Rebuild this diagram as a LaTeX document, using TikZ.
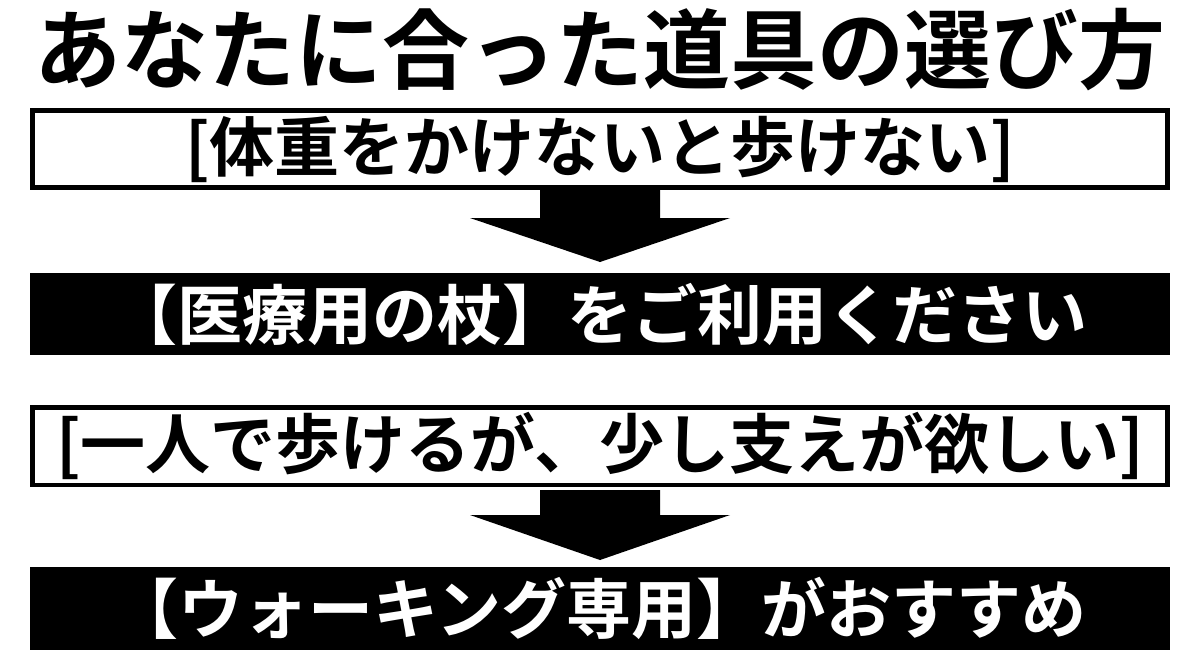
\documentclass[tikz,border=0pt]{standalone}
\usepackage{fontspec}
\newfontfamily\jp{Noto Sans CJK JP}[BoldFont={* Bold}]
\begin{document}
\begin{tikzpicture}[x=0.02cm,y=-0.02cm,
  wbox/.style={draw=black,line width=0.09cm,fill=white,minimum width=22.7cm,minimum height=1.55cm,inner sep=0pt,font=\jp\bfseries\fontsize{37}{37}\selectfont,text=black},
  bbox/.style={fill=black,minimum width=22.8cm,minimum height=1.66cm,inner sep=0pt,font=\jp\bfseries\fontsize{37}{37}\selectfont,text=white},
  bigarrow/.style={fill=black}]
\useasboundingbox (0,0) rectangle (1200,670);
\node[font=\jp\bfseries\fontsize{49.5}{49.5}\selectfont] (title) at (600,50) {あなたに合った道具の選び方};
\node[wbox] (b1) at (600,149) {[体重をかけないと歩けない]};
\node[bbox] (b2) at (600,314) {【医療用の杖】をご利用ください};
\node[wbox] (b3) at (600,446) {[一人で歩けるが、少し支えが欲しい]};
\node[bbox] (b4) at (600,608) {【ウォーキング専用】がおすすめ};
\coordinate (t1) at (600,262);
\coordinate (t2) at (600,560);
\fill[bigarrow] (540,190) -- (660,190) -- (660,218) -- (730,218) -- (t1) -- (470,218) -- (540,218) -- cycle;
\fill[bigarrow] (540,490) -- (660,490) -- (660,515) -- (730,515) -- (t2) -- (470,515) -- (540,515) -- cycle;
\end{tikzpicture}
\end{document}
